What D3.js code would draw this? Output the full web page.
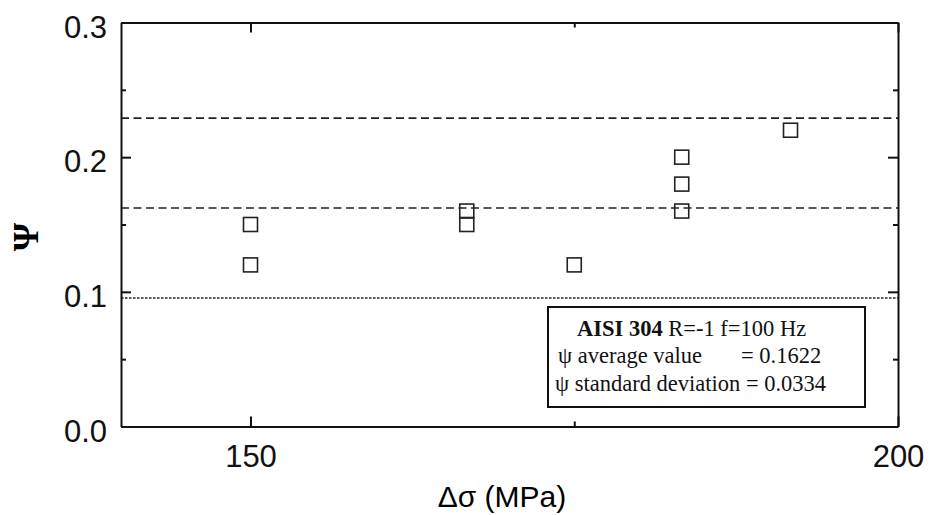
<!DOCTYPE html>
<html>
  <head>
    <meta charset="utf-8">
    <title>AISI 304 psi vs stress range</title>
    <script src="https://d3js.org/d3.v7.min.js"></script>
    <style>
      body { margin: 0; background: #fff; }
      #chart { display: block; }
      .axis path, .axis line { stroke: #111; stroke-width: 2; }
      .axis text { font-family: "Liberation Sans", Arial, Helvetica, sans-serif; font-size: 31px; fill: #111; }
      .point { fill: none; stroke: #222; stroke-width: 1.6; }
      .ref { stroke: #222; stroke-width: 1.6; fill: none; }
      .legend text { font-family: "Liberation Serif", "Times New Roman", serif; font-size: 22.5px; fill: #111; }
    </style>
  </head>
  <body>
    <svg id="chart" width="936" height="515"></svg>
    <script>
      // data
      var stressRange = [150, 150, 166.7, 166.7, 175, 183.3, 183.3, 183.3, 191.7];
      var psiValues = [0.15, 0.12, 0.16, 0.15, 0.12, 0.20, 0.18, 0.16, 0.22];
      var refLevels = [0.229, 0.1622, 0.0954];   // mean + 2sd, mean, mean - 2sd
      var refDash = ["8,4.5", "8,4.5", "2.5,1.5"];
      var xTicks = [150, 200], xMinor = [175];
      var yTicks = [0, 0.1, 0.2, 0.3], yMinor = [0.05, 0.15, 0.25];
      var legendLines = ["R=-1 f=100 Hz", "\u03c8 average value", "= 0.1622", "\u03c8 standard deviation = 0.0334"];

      var chart = d3.select("#chart");
      var margin = { top: 22.5, right: 38, bottom: 88.5, left: 121 };
      var width = 936, height = 515;

      var x = d3.scaleLinear().domain([140, 200]).range([margin.left, width - margin.right]);
      var y = d3.scaleLinear().domain([0, 0.3]).range([height - margin.bottom, margin.top]);

      // reference lines
      chart.selectAll(".ref")
        .data(refLevels)
        .enter().append("line")
          .classed("ref", true)
          .attr("x1", x.range()[0])
          .attr("x2", x.range()[1])
          .attr("y1", function(d) { return y(d); })
          .attr("y2", function(d) { return y(d); })
          .attr("stroke-dasharray", function(d, i) { return refDash[i]; });

      // points as open squares
      var side = 14;
      chart.selectAll(".point")
        .data(stressRange)
        .enter().append("rect")
          .classed("point", true)
          .attr("width", side)
          .attr("height", side)
          .attr("x", function(d) { return x(d) - side / 2; })
          .attr("y", function(d, i) { return y(psiValues[i]) - side / 2; });

      // axes: majors with labels, minors without, ticks pointing inward
      function drawAxis(axisFn, scale, ticks, minor, transform, labels) {
        var g = chart.append("g").classed("axis", true).attr("transform", transform);
        g.call(axisFn(scale).tickValues(ticks).tickSizeInner(-10).tickSizeOuter(0)
          .tickPadding(labels ? 14 : 0)
          .tickFormat(labels ? labels : ""));
        var m = chart.append("g").classed("axis", true).attr("transform", transform);
        m.call(axisFn(scale).tickValues(minor).tickSizeInner(-5).tickSizeOuter(0).tickFormat(""));
        m.select(".domain").remove();
        return g;
      }
      var left = drawAxis(d3.axisLeft, y, yTicks, yMinor, "translate(" + margin.left + ",0)", d3.format(".1f"));
      left.selectAll("text").attr("dy", "0.47em");
      drawAxis(d3.axisRight, y, yTicks, yMinor, "translate(" + (width - margin.right) + ",0)", null);
      var bottom = drawAxis(d3.axisBottom, x, xTicks, xMinor, "translate(0," + (height - margin.bottom) + ")", d3.format("d"));
      bottom.selectAll("text").attr("y", 18);
      drawAxis(d3.axisTop, x, xTicks, xMinor, "translate(0," + margin.top + ")", null);

      // axis titles
      chart.append("text")
        .attr("x", 502)
        .attr("y", 507)
        .attr("text-anchor", "middle")
        .style("font-family", "'Liberation Sans', Arial, sans-serif")
        .style("font-size", "30px")
        .text("\u0394\u03c3 (MPa)");
      chart.append("text")
        .attr("transform", "translate(26,237) rotate(-90)")
        .attr("text-anchor", "middle")
        .attr("dominant-baseline", "central")
        .style("font-family", "'Liberation Serif', 'Times New Roman', serif")
        .style("font-weight", "bold")
        .style("font-size", "36px")
        .text("\u03a8");

      // legend box
      var legend = chart.append("g").classed("legend", true);
      legend.append("rect")
        .attr("x", 548).attr("y", 307).attr("width", 317).attr("height", 100)
        .attr("fill", "#fff").attr("stroke", "#111").attr("stroke-width", 2);
      var l1 = legend.append("text").attr("x", 577).attr("y", 336);
      l1.append("tspan").style("font-weight", "bold").text("AISI 304");
      l1.append("tspan").text(" " + legendLines[0]);
      legend.append("text").attr("x", 558).attr("y", 363).text(legendLines[1]);
      legend.append("text").attr("x", 741).attr("y", 363).text(legendLines[2]);
      legend.append("text").attr("x", 555).attr("y", 391).text(legendLines[3]);
    </script>
  </body>
</html>
